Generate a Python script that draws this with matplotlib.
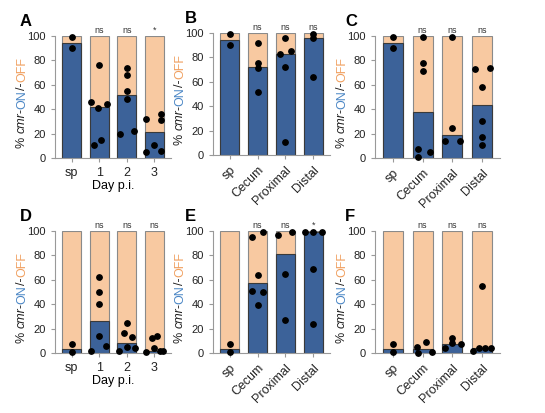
import matplotlib
matplotlib.use("Agg")
import matplotlib.pyplot as plt
from matplotlib import transforms

plt.rcParams["font.family"] = ["Liberation Sans", "DejaVu Sans"]

BLUE = "#3c6299"
ORANGE = "#f8c9a1"
EDGE = "#3a3a3a"

days = ["sp", "1", "2", "3"]
sites = ["sp", "Cecum", "Proximal", "Distal"]

# mean %ON per bar, then per-animal points (value, x offset)
bars_A = [94.5, 42, 52, 21]
pts_A = [[(99, 0), (90, 0)],
         [(76, 0), (46, -0.28), (41, -0.05), (44, 0.28), (15, 0.05), (11, -0.2)],
         [(74, 0), (68, 0), (55, 0), (48, 0), (20, -0.25), (22, 0.25)],
         [(32, -0.3), (36, 0.25), (31, 0.25), (11, 0), (5, -0.3), (6, 0.25)]]
bars_B = [94.5, 72.5, 82.5, 95.5]
pts_B = [[(99, 0), (90, 0)],
         [(92, 0), (75, 0), (71, 0), (52, 0)],
         [(96, 0), (83, -0.2), (85, 0.2), (72, 0), (11, 0)],
         [(99, 0), (96, 0), (64, 0)]]
bars_C = [94.5, 38, 19, 43.5]
pts_C = [[(99, 0), (90, 0)],
         [(99, 0), (78, 0), (71, 0), (7, -0.15), (1, -0.15), (5, 0.25)],
         [(99, 0), (25, 0), (14, -0.25), (14, 0.25)],
         [(73, -0.25), (74, 0.25), (58, 0), (30, 0), (17, 0), (11, 0)]]
bars_D = [3.5, 26.5, 8.5, 2]
pts_D = [[(7, 0), (1, 0)],
         [(62, 0), (50, 0), (40, 0), (14, 0), (2, -0.3), (6, 0.25)],
         [(25, 0), (16, -0.1), (13, 0.2), (5, 0), (2, -0.3), (4, 0.3)],
         [(12, -0.1), (14, 0.1), (4, 0), (1, -0.3), (2, 0.2), (2, 0.32)]]
bars_E = [3.5, 57.5, 81.5, 99.5]
pts_E = [[(7, 0), (1, 0)],
         [(95, -0.2), (99, 0.2), (64, 0), (51, -0.2), (50, 0.2), (39, 0)],
         [(97, -0.25), (99.5, 0.25), (65, 0), (27, 0)],
         [(99, -0.3), (99, 0), (99, 0.3), (69, 0), (24, 0)]]
bars_F = [3.5, 3, 7, 4]
pts_F = [[(7, 0), (1, 0)],
         [(5, -0.2), (9, 0.1), (0, -0.15), (1, 0.3)],
         [(12, 0), (8, 0), (4, -0.25), (7, 0.3)],
         [(55, 0), (2, -0.3), (4, -0.1), (4, 0.1), (4, 0.3)]]

sig_A = ["", "ns", "ns", "*"]
sig_E = ["", "ns", "ns", "*"]
sig_ns = ["", "ns", "ns", "ns"]

W, H = 545, 413
fig = plt.figure(figsize=(W / 100, H / 100), dpi=100)


def px_axes(x0, x1, y100, y0):
    return fig.add_axes([x0 / W, 1 - y0 / H, (x1 - x0) / W, (y0 - y100) / H])


panels = [
    ("A", (55, 171, 36, 158), bars_A, pts_A, days, sig_A, True, 35),
    ("B", (213, 330, 33, 155), bars_B, pts_B, sites, sig_ns, False, 28),
    ("C", (375, 500, 36, 158), bars_C, pts_C, sites, sig_ns, False, 30),
    ("D", (55, 171, 231, 353), bars_D, pts_D, days, sig_ns, True, 35),
    ("E", (213, 330, 231, 353), bars_E, pts_E, sites, sig_E, False, 28),
    ("F", (375, 500, 231, 353), bars_F, pts_F, sites, sig_ns, False, 30),
]

label_parts = [("% ", "#222222", "normal"), ("cmr", "#222222", "italic"),
               ("-", "#222222", "normal"), ("ON", "#4a86c5", "normal"),
               ("/-", "#222222", "normal"), ("OFF", "#f0a060", "normal")]

fig.canvas.draw()
renderer = fig.canvas.get_renderer()

for letter, box, bars, pts, cats, sig, is_day, lx in panels:
    ax = px_axes(*box)
    x = range(len(cats))
    ax.bar(x, [100] * len(cats), width=0.68, color=ORANGE, edgecolor="#8a8a8a", lw=0.8, zorder=1)
    ax.bar(x, bars, width=0.68, color=BLUE, edgecolor=EDGE, lw=0.8, zorder=2)
    for i, grp in enumerate(pts):
        ax.scatter([i + o for _, o in grp], [v for v, _ in grp], s=15, color="black", zorder=3,
                   clip_on=False)
        if sig[i]:
            ax.text(i, 101, sig[i], ha="center", va="bottom", fontsize=6.5, color="#333333")
    ax.set_ylim(0, 100)
    ax.set_xlim(-0.6, 3.6)
    ax.set_yticks(range(0, 101, 20))
    ax.set_xticks(list(x))
    for s in ["top", "right"]:
        ax.spines[s].set_visible(False)
    for s in ["left", "bottom"]:
        ax.spines[s].set_color("#999999")
    ax.tick_params(colors="#999999", labelcolor="#222222", labelsize=8, length=3)
    if is_day:
        ax.set_xticklabels(cats, fontsize=9)
        ax.set_xlabel("Day p.i.", fontsize=9, labelpad=1)
    else:
        ax.set_xticklabels(cats, rotation=45, ha="right", rotation_mode="anchor", fontsize=9)
    bb = ax.get_position()
    fig.text(bb.x0 - lx / W, bb.y1 + 10 / H, letter, fontsize=12, fontweight="bold")
    # multi-coloured rotated y label, built piece by piece
    trans = transforms.blended_transform_factory(fig.transFigure, ax.transAxes)
    tx, ty = bb.x0 - 33 / W, 0.08
    offset = 0
    for txt, col, style in label_parts:
        t = fig.text(tx, ty, txt, color=col, style=style, fontsize=9, rotation=90,
                     transform=transforms.offset_copy(trans, fig=fig, x=0, y=offset, units="dots"),
                     ha="center", va="bottom")
        offset += t.get_window_extent(renderer=renderer).height

fig.savefig("out.png", dpi=100)
